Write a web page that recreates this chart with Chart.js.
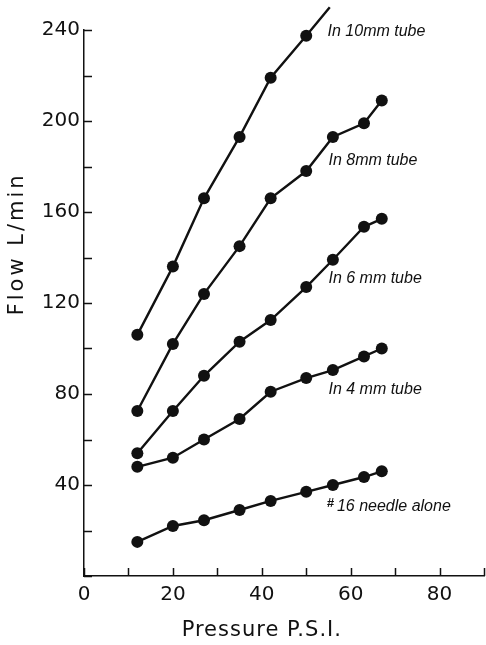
<!DOCTYPE html>
<html>
<head>
<meta charset="utf-8">
<script src="https://cdn.jsdelivr.net/npm/chart.js@4"></script>
<style>
  html, body { margin: 0; padding: 0; background: #fff; }
  #wrap { width: 486px; height: 645px; }
</style>
</head>
<body>
<div id="wrap"><canvas id="c" width="486" height="645"></canvas></div>
<script>
// ---- data ----
const pressure = [12, 20, 27, 35, 42, 50, 56, 63, 67];
const pressure10 = [12, 20, 27, 35, 42, 50, 55.3];   // last entry: where the drawn line leaves the plot
const flow10mm = [106, 136, 166, 193, 219, 237.5, 250];
const flow8mm = [72.5, 102, 124, 145, 166, 178, 193, 199, 209];
const flow6mm = [54, 72.5, 88, 103, 112.5, 127, 139, 153.5, 157];
const flow4mm = [48, 52, 60, 69, 81, 87, 90.5, 96.5, 100];
const flowNeedle = [15, 22, 24.5, 29, 33, 37, 40, 43.5, 46];

const curveLabels = ['In 10mm tube', 'In 8mm tube', 'In 6 mm tube', 'In 4 mm tube', '#16 needle alone'];
const labelAnchorX = [54.8, 55, 55, 55, 54.6];
const labelAnchorY = [240, 183.5, 131.5, 82.7, 31.2];

const xTitle = 'Pressure P.S.I.';
const yTitle = 'Flow L/min';

function pts(xs, ys) { return ys.map((v, i) => ({ x: xs[i], y: v })); }

const INK = '#111';

const lineDs = (data, extra) => Object.assign({
  data: data,
  borderColor: INK,
  backgroundColor: INK,
  borderWidth: 2.4,
  pointRadius: 6,
  pointHoverRadius: 6,
  pointBackgroundColor: INK,
  pointBorderColor: INK,
  pointBorderWidth: 0,
  tension: 0,
  fill: false
}, extra || {});

const labelsPlugin = {
  id: 'curveLabels',
  afterDatasetsDraw(chart) {
    const { ctx, scales: { x, y } } = chart;
    ctx.save();
    ctx.fillStyle = INK;
    ctx.textAlign = 'left';
    ctx.textBaseline = 'alphabetic';
    curveLabels.forEach((t, i) => {
      let px = x.getPixelForValue(labelAnchorX[i]);
      const py = y.getPixelForValue(labelAnchorY[i]) + 6;
      if (t.startsWith('#')) {
        ctx.font = 'italic bold 13px "Liberation Sans"';
        ctx.fillText('#', px, py - 4);
        px += ctx.measureText('#').width + 3;
        t = t.slice(1);
      }
      ctx.font = 'italic 16px "Liberation Sans"';
      ctx.fillText(t, px, py);
    });
    ctx.restore();
  }
};

// tick marks drawn inward from the axis lines, at the scale's own ticks
const inwardTicks = {
  id: 'inwardTicks',
  afterDraw(chart) {
    const { ctx, scales: { x, y } } = chart;
    ctx.save();
    ctx.strokeStyle = INK;
    ctx.lineWidth = 1.5;
    ctx.beginPath();
    x.ticks.forEach((t) => {
      const px = Math.round(x.getPixelForValue(t.value)) + 0.5;
      ctx.moveTo(px, x.top);
      ctx.lineTo(px, x.top - 8);
    });
    y.ticks.forEach((t) => {
      const py = Math.round(y.getPixelForValue(t.value)) + 0.5;
      ctx.moveTo(y.right, py);
      ctx.lineTo(y.right + 8, py);
    });
    ctx.stroke();
    ctx.restore();
  }
};

const titlesPlugin = {
  id: 'axisTitles',
  afterDraw(chart) {
    const { ctx, scales: { x, y } } = chart;
    ctx.save();
    ctx.fillStyle = INK;
    ctx.font = '21px "DejaVu Sans"';
    ctx.textAlign = 'center';
    ctx.textBaseline = 'middle';
    ctx.letterSpacing = '1px';
    ctx.fillText(xTitle, x.getPixelForValue(40), 631);
    ctx.translate(18, y.getPixelForValue(146));
    ctx.rotate(-Math.PI / 2);
    ctx.letterSpacing = '3px';
    ctx.fillText(yTitle, 0, 0);
    ctx.restore();
  }
};

const tickFont = { family: 'DejaVu Sans', size: 20 };

new Chart(document.getElementById('c'), {
  type: 'line',
  data: {
    datasets: [
      lineDs(pts(pressure10, flow10mm), {
        clip: false,
        pointRadius: (c) => (c.dataIndex < flow10mm.length - 1 ? 6 : 0)
      }),
      lineDs(pts(pressure, flow8mm)),
      lineDs(pts(pressure, flow6mm)),
      lineDs(pts(pressure, flow4mm)),
      lineDs(pts(pressure, flowNeedle))
    ]
  },
  options: {
    responsive: false,
    animation: false,
    devicePixelRatio: 1,
    layout: { autoPadding: false, padding: { top: 30, right: 2, bottom: 0, left: 0 } },
    plugins: { legend: { display: false }, tooltip: { enabled: false } },
    scales: {
      x: {
        type: 'linear',
        position: 'bottom',
        min: 0, max: 90,
        afterFit: (s) => { s.height = 69; s.paddingLeft = 0; s.paddingRight = 0; },
        ticks: {
          stepSize: 10,
          autoSkip: false,
          maxRotation: 0,
          padding: 7,
          color: INK,
          font: tickFont,
          callback: (v) => (v % 20 === 0 ? String(v) : '')
        },
        grid: { drawOnChartArea: false, drawTicks: false, tickLength: 0 },
        border: { color: INK, width: 1.5 }
      },
      y: {
        type: 'linear',
        position: 'left',
        min: 0, max: 240,
        afterFit: (s) => { s.width = 84; s.paddingTop = 0; s.paddingBottom = 0; },
        ticks: {
          stepSize: 20,
          autoSkip: false,
          padding: 4,
          color: INK,
          font: tickFont,
          callback: (v) => (v > 0 && v % 40 === 0 ? String(v) : '')
        },
        grid: { drawOnChartArea: false, drawTicks: false, tickLength: 0 },
        border: { color: INK, width: 1.5 }
      }
    }
  },
  plugins: [labelsPlugin, inwardTicks, titlesPlugin]
});
</script>
</body>
</html>
